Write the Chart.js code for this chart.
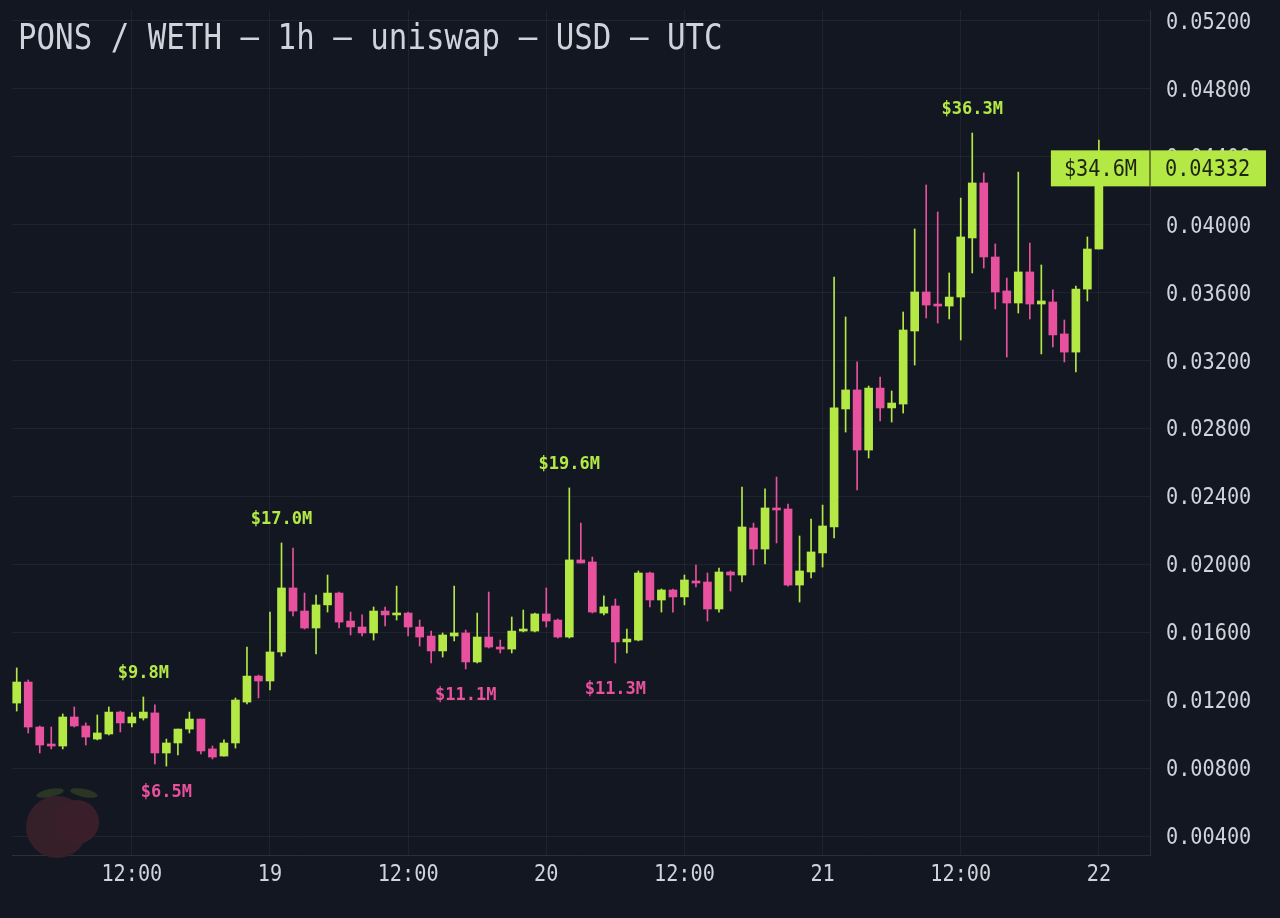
<!DOCTYPE html>
<html>
<head>
<meta charset="utf-8">
<title>PONS / WETH 1h</title>
<script src="https://cdn.jsdelivr.net/npm/chart.js@4.4.1/dist/chart.umd.min.js"></script>
<style>
  html, body { margin: 0; padding: 0; background: #131722; }
  #wrap { position: relative; width: 1280px; height: 918px; }
</style>
</head>
<body>
<div id="wrap"><canvas id="chart"></canvas></div>
<script>
"use strict";

// hourly candles, index 0 = 18th 02:00 UTC, last = 22nd 00:00
const opens = [
  0.01183, 0.01307, 0.01042, 0.00942, 0.00930, 0.01101, 0.01048, 0.00971, 0.01001, 0.01130,
  0.01066, 0.01095, 0.01125, 0.00889, 0.00948, 0.01030, 0.01089, 0.00913, 0.00871, 0.00948,
  0.01189, 0.01342, 0.01313, 0.01484, 0.01861, 0.01725, 0.01625, 0.01761, 0.01831, 0.01666,
  0.01631, 0.01596, 0.01725, 0.01702, 0.01713, 0.01631, 0.01578, 0.01490, 0.01578, 0.01596,
  0.01425, 0.01572, 0.01513, 0.01501, 0.01607, 0.01607, 0.01708, 0.01672, 0.01572, 0.02026,
  0.02014, 0.01713, 0.01755, 0.01543, 0.01554, 0.01949, 0.01790, 0.01849, 0.01808, 0.01902,
  0.01896, 0.01737, 0.01955, 0.01937, 0.02214, 0.02090, 0.02332, 0.02326, 0.01878, 0.01955,
  0.02067, 0.02220, 0.02915, 0.03027, 0.02673, 0.03038, 0.02921, 0.02944, 0.03374, 0.03604,
  0.03533, 0.03521, 0.03574, 0.03922, 0.04246, 0.03810, 0.03610, 0.03539, 0.03722, 0.03533,
  0.03545, 0.03357, 0.03250, 0.03621, 0.03857
];
const highs = [
  0.01390, 0.01319, 0.01048, 0.01042, 0.01119, 0.01160, 0.01066, 0.01113, 0.01160, 0.01136,
  0.01125, 0.01219, 0.01172, 0.00971, 0.01030, 0.01130, 0.01089, 0.00930, 0.00966, 0.01213,
  0.01513, 0.01348, 0.01719, 0.02126, 0.02096, 0.01831, 0.01819, 0.01937, 0.01837, 0.01719,
  0.01702, 0.01749, 0.01749, 0.01872, 0.01719, 0.01672, 0.01607, 0.01596, 0.01872, 0.01613,
  0.01713, 0.01837, 0.01554, 0.01690, 0.01731, 0.01713, 0.01861, 0.01678, 0.02450, 0.02243,
  0.02043, 0.01814, 0.01796, 0.01619, 0.01961, 0.01955, 0.01855, 0.01855, 0.01937, 0.01996,
  0.01949, 0.01978, 0.01961, 0.02455, 0.02243, 0.02444, 0.02514, 0.02355, 0.02167, 0.02267,
  0.02349, 0.03692, 0.03457, 0.03192, 0.03050, 0.03103, 0.03021, 0.03486, 0.03975, 0.04234,
  0.04075, 0.03716, 0.04157, 0.04540, 0.04305, 0.03887, 0.03686, 0.04310, 0.03892, 0.03763,
  0.03616, 0.03439, 0.03639, 0.03928, 0.04499
];
const lows = [
  0.01136, 0.01007, 0.00889, 0.00913, 0.00913, 0.01042, 0.00936, 0.00966, 0.00995, 0.01013,
  0.01042, 0.01083, 0.00824, 0.00812, 0.00877, 0.01007, 0.00883, 0.00854, 0.00871, 0.00918,
  0.01178, 0.01213, 0.01260, 0.01460, 0.01696, 0.01619, 0.01472, 0.01719, 0.01625, 0.01584,
  0.01578, 0.01554, 0.01637, 0.01672, 0.01578, 0.01519, 0.01419, 0.01454, 0.01549, 0.01384,
  0.01419, 0.01507, 0.01478, 0.01478, 0.01602, 0.01602, 0.01631, 0.01566, 0.01566, 0.02008,
  0.01713, 0.01702, 0.01419, 0.01478, 0.01549, 0.01749, 0.01719, 0.01719, 0.01761, 0.01867,
  0.01666, 0.01719, 0.01843, 0.01896, 0.01996, 0.02002, 0.02126, 0.01872, 0.01778, 0.01920,
  0.01984, 0.02155, 0.02779, 0.02438, 0.02626, 0.02844, 0.02838, 0.02891, 0.03174, 0.03451,
  0.03421, 0.03445, 0.03321, 0.03716, 0.03745, 0.03504, 0.03221, 0.03480, 0.03445, 0.03239,
  0.03280, 0.03192, 0.03133, 0.03551, 0.03857
];
const closes = [
  0.01307, 0.01042, 0.00936, 0.00930, 0.01101, 0.01048, 0.00983, 0.01007, 0.01130, 0.01066,
  0.01101, 0.01130, 0.00889, 0.00948, 0.01030, 0.01089, 0.00901, 0.00865, 0.00948, 0.01201,
  0.01342, 0.01313, 0.01484, 0.01861, 0.01725, 0.01625, 0.01761, 0.01831, 0.01660, 0.01631,
  0.01596, 0.01725, 0.01702, 0.01713, 0.01631, 0.01572, 0.01490, 0.01584, 0.01596, 0.01425,
  0.01572, 0.01513, 0.01501, 0.01607, 0.01619, 0.01708, 0.01666, 0.01572, 0.02026, 0.02008,
  0.01719, 0.01749, 0.01543, 0.01560, 0.01949, 0.01790, 0.01849, 0.01808, 0.01908, 0.01890,
  0.01737, 0.01955, 0.01937, 0.02220, 0.02090, 0.02332, 0.02320, 0.01878, 0.01961, 0.02073,
  0.02226, 0.02921, 0.03027, 0.02673, 0.03038, 0.02921, 0.02950, 0.03380, 0.03604, 0.03527,
  0.03521, 0.03574, 0.03928, 0.04246, 0.03810, 0.03604, 0.03539, 0.03722, 0.03533, 0.03551,
  0.03351, 0.03250, 0.03621, 0.03857, 0.04332
];

const yTicks = [0.004, 0.008, 0.012, 0.016, 0.020, 0.024, 0.028, 0.032, 0.036, 0.040, 0.044, 0.048, 0.052];
const xTickIndex = [10, 22, 34, 46, 58, 70, 82, 94];
const xTickLabels = ["12:00", "19", "12:00", "20", "12:00", "21", "12:00", "22"];

// market cap call-outs at local highs / lows
const capIndex = [11, 13, 23, 39, 48, 52, 83];
const capText = ["$9.8M", "$6.5M", "$17.0M", "$11.1M", "$19.6M", "$11.3M", "$36.3M"];
const capSide = ["high", "low", "high", "low", "high", "low", "high"];
const lastCap = "$34.6M";

const titleText = "PONS / WETH — 1h — uniswap — USD — UTC";

const UP = "#b3e845";
const DOWN = "#e8519d";
const TEXT = "#cfd3dc";
const GRID = "rgba(255, 255, 255, 0.055)";
const AXIS = "#2b2f3b";
const MONO = "'DejaVu Sans Mono', monospace";

function isUp(i) {
  return closes[i] >= opens[i];
}

function drawText(ctx, text, x, y, opts) {
  ctx.save();
  ctx.translate(x, y);
  ctx.scale(opts.scaleX || 1, 1);
  ctx.font = `${opts.weight || "normal"} ${opts.size}px ${MONO}`;
  ctx.fillStyle = opts.color;
  ctx.textAlign = opts.align || "left";
  ctx.textBaseline = "alphabetic";
  ctx.fillText(text, 0, 0);
  ctx.restore();
}

function drawPeach(ctx) {
  ctx.save();
  ctx.fillStyle = "#35202a";
  ctx.beginPath();
  ctx.arc(57, 827, 31, 0, Math.PI * 2);
  ctx.fill();
  ctx.fillStyle = "#3a1f2b";
  ctx.beginPath();
  ctx.arc(77, 822, 22, 0, Math.PI * 2);
  ctx.fill();
  ctx.fillStyle = "#2a3523";
  ctx.beginPath();
  ctx.ellipse(50, 793, 14, 4, -0.2, 0, Math.PI * 2);
  ctx.fill();
  ctx.beginPath();
  ctx.ellipse(84, 793, 14, 4, 0.2, 0, Math.PI * 2);
  ctx.fill();
  ctx.restore();
}

const chartDecor = {
  id: "chartDecor",
  beforeDatasetsDraw(chart) {
    drawPeach(chart.ctx);
  },
  afterDatasetsDraw(chart) {
    const ctx = chart.ctx;
    const xs = chart.scales.x;
    const ys = chart.scales.y;
    capIndex.forEach((idx, k) => {
      const x = xs.getPixelForValue(idx);
      if (capSide[k] === "high") {
        drawText(ctx, capText[k], x, ys.getPixelForValue(highs[idx]) - 19,
          { size: 17, weight: "bold", color: UP, align: "center" });
      } else {
        drawText(ctx, capText[k], x, ys.getPixelForValue(lows[idx]) + 31,
          { size: 17, weight: "bold", color: DOWN, align: "center" });
      }
    });
  },
  afterDraw(chart) {
    const ctx = chart.ctx;
    const xs = chart.scales.x;
    const ys = chart.scales.y;
    const area = chart.chartArea;

    drawText(ctx, titleText, 18, 49, { size: 35, scaleX: 0.88, color: TEXT });

    // axis labels (condensed mono look)
    yTicks.forEach((v) => {
      drawText(ctx, v.toFixed(5), area.right + 16, ys.getPixelForValue(v) + 8,
        { size: 23, scaleX: 0.88, color: TEXT });
    });
    xTickIndex.forEach((idx, k) => {
      drawText(ctx, xTickLabels[k], xs.getPixelForValue(idx), 881,
        { size: 23, scaleX: 0.88, color: TEXT, align: "center" });
    });

    // last price tag
    const last = closes.length - 1;
    const lx = xs.getPixelForValue(last);
    const ly = ys.getPixelForValue(closes[last]);
    ctx.save();
    ctx.fillStyle = UP;
    ctx.fillRect(lx - 48, ly - 18, 1266 - (lx - 48), 36);
    ctx.fillStyle = "#1d2412";
    ctx.fillRect(area.right - 0.5, ly - 18, 1, 36);
    ctx.restore();
    drawText(ctx, lastCap, (lx - 48 + area.right) / 2, ly + 8,
      { size: 23, scaleX: 0.88, color: "#1d2412", align: "center" });
    drawText(ctx, closes[last].toFixed(5), area.right + 15, ly + 8,
      { size: 23, scaleX: 0.88, color: "#1d2412" });
  },
};

const bodies = opens.map((o, i) => ({ x: i, y: [o, closes[i]] }));
const wicks = lows.map((l, i) => ({ x: i, y: [l, highs[i]] }));

const ctx = document.getElementById("chart").getContext("2d");

new Chart(ctx, {
  type: "bar",
  data: {
    datasets: [
      {
        label: "body",
        data: bodies,
        grouped: false,
        barThickness: 8,
        minBarLength: 2,
        borderWidth: 0,
        borderSkipped: false,
        backgroundColor: (c) => (isUp(c.dataIndex) ? UP : DOWN),
      },
      {
        label: "wick",
        data: wicks,
        grouped: false,
        barThickness: 1,
        borderWidth: 0,
        borderSkipped: false,
        backgroundColor: (c) => (isUp(c.dataIndex) ? UP : DOWN),
      },
    ],
  },
  options: {
    responsive: true,
    maintainAspectRatio: false,
    animation: false,
    layout: { padding: { left: 12, top: 10, right: 0, bottom: 0 } },
    plugins: {
      legend: { display: false },
      tooltip: { enabled: false },
    },
    scales: {
      x: {
        type: "linear",
        offset: false,
        min: -0.41,
        max: 98.44,
        grid: { color: GRID, drawTicks: false, offset: false },
        border: { color: AXIS },
        ticks: { display: false },
        afterBuildTicks: (scale) => {
          scale.ticks = xTickIndex.map((v) => ({ value: v }));
        },
        afterFit: (scale) => {
          scale.height = 63;
        },
      },
      y: {
        position: "right",
        min: 0.002883,
        max: 0.052645,
        grid: { color: GRID, drawTicks: false },
        border: { color: AXIS },
        ticks: { display: false },
        afterBuildTicks: (scale) => {
          scale.ticks = yTicks.map((v) => ({ value: v }));
        },
        afterFit: (scale) => {
          scale.width = 130;
        },
      },
    },
  },
  plugins: [chartDecor],
});
</script>
</body>
</html>
